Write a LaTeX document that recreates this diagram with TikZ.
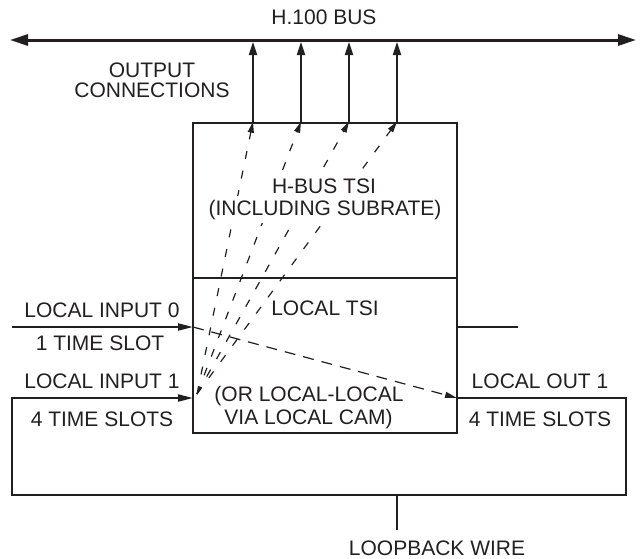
\documentclass[tikz,border=0pt]{standalone}
\usepackage{fontspec}
\setmainfont{Liberation Sans}
\usetikzlibrary{arrows.meta}
\definecolor{ink}{RGB}{35,31,32}
\begin{document}
\begin{tikzpicture}[x=1pt,y=-1pt,
  lbl/.style={anchor=base, inner sep=0pt, font=\fontsize{21}{22}\selectfont, text=ink},
  masklbl/.style={lbl, fill=white, inner xsep=3pt, inner ysep=4pt},
  tsibox/.style={draw=ink, line width=2.6pt, minimum width=264pt, minimum height=155pt, inner sep=0pt},
  busline/.style={draw=ink, line width=3pt, {Triangle[length=18pt,width=11pt]}-{Triangle[length=18pt,width=11pt]}},
  outarrow/.style={draw=ink, line width=1.8pt, -{Triangle[length=13pt,width=8pt]}},
  inarrow/.style={draw=ink, line width=2pt, -{Triangle[length=15pt,width=7pt]}},
  wire/.style={draw=ink, line width=2pt},
  fanarrow/.style={draw=ink, line width=1.2pt, dash pattern=on 8pt off 12pt, -{Triangle[length=11pt,width=6pt]}},
  localarrow/.style={draw=ink, line width=1.2pt, dash pattern=on 11pt off 8pt, -{Triangle[length=12pt,width=6pt]}}
]
\useasboundingbox (0,0) rectangle (644,558);

% boxes
\node[tsibox] (hbus) at (325,200.5) {};
\node[tsibox] (ltsi) at (325,355.5) {};

% bus
\coordinate (busL) at (10,40);
\coordinate (busR) at (636,40);
\draw[busline] (busL) -- (busR);

% output connections
\coordinate (o1) at (253,42);
\coordinate (o2) at (301,42);
\coordinate (o3) at (349,42);
\coordinate (o4) at (397,42);
\draw[outarrow] (hbus.north -| o1) -- (o1);
\draw[outarrow] (hbus.north -| o2) -- (o2);
\draw[outarrow] (hbus.north -| o3) -- (o3);
\draw[outarrow] (hbus.north -| o4) -- (o4);

% local inputs and wires
\coordinate (in0s) at (12,327);
\coordinate (in0) at (193,327);
\coordinate (in1) at (193,398);
\coordinate (in1s) at (12,398);
\coordinate (lbL) at (12,495);
\coordinate (lbR) at (626,495);
\coordinate (out1) at (457,398);
\coordinate (out1e) at (626,398);
\coordinate (stubS) at (457,327);
\coordinate (stubE) at (518,327);
\coordinate (tickT) at (397,495);
\coordinate (tickB) at (397,530);
\coordinate (fan) at (197,394);

\draw[inarrow] (in0s) -- (in0);
\draw[inarrow] (out1) -- (out1e) -- (lbR) -- (lbL) -- (in1s) -- (in1);
\draw[wire] (stubS) -- (stubE);
\draw[wire] (tickT) -- (tickB);

% dashed paths
\draw[fanarrow] (fan) -- (hbus.north -| o1);
\draw[fanarrow] (fan) -- (hbus.north -| o2);
\draw[fanarrow] (fan) -- (hbus.north -| o3);
\draw[fanarrow] (fan) -- (hbus.north -| o4);
\draw[localarrow] (in0) -- (out1);

% labels
\node[lbl] (tbus) at (324,24) {H.100 BUS};
\node[lbl] (tout1) at (152,77) {OUTPUT};
\node[lbl] (tout2) at (152,97) {CONNECTIONS};
\node[masklbl] (thb1) at (324,193) {H-BUS TSI};
\node[masklbl] (thb2) at (325,215) {(INCLUDING SUBRATE)};
\node[lbl] (tlt) at (325,315) {LOCAL TSI};
\node[lbl] (tor1) at (309,401) {(OR LOCAL-LOCAL};
\node[lbl] (tor2) at (308.5,424) {VIA LOCAL CAM)};
\node[lbl] (tin0) at (102,317) {LOCAL INPUT 0};
\node[lbl] (tslot1) at (100,350) {1 TIME SLOT};
\node[lbl] (tin1) at (102,388) {LOCAL INPUT 1};
\node[lbl] (tslotsa) at (102,426) {4 TIME SLOTS};
\node[lbl] (tlo1) at (540,388) {LOCAL OUT 1};
\node[lbl] (tslotsb) at (540,426) {4 TIME SLOTS};
\node[lbl] (tloop) at (437,555) {LOOPBACK WIRE};
\end{tikzpicture}
\end{document}
